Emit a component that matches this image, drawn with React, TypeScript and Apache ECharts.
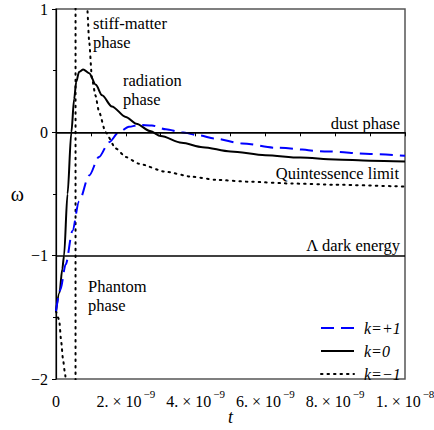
import React, { useEffect, useRef } from 'react';
import * as echarts from 'echarts';

// time values in units of 1e-9 (converted below), omega values
const tPlus = [0, 0.12, 0.28, 0.47, 0.66, 0.95, 1.23, 1.52, 1.8, 2.09, 2.38, 2.75, 3.15, 3.6, 4.1, 4.55, 5.33, 6.3, 7.8, 9.0, 10];
const wPlus = [-1.45, -1.28, -1.07, -0.8, -0.56, -0.35, -0.2, -0.08, 0.0, 0.045, 0.06, 0.055, 0.025, 0.0, -0.025, -0.05, -0.09, -0.125, -0.155, -0.175, -0.19];

const tZero = [0, 0.1, 0.18, 0.23, 0.33, 0.44, 0.52, 0.58, 0.66, 0.78, 0.95, 1.14, 1.32, 1.6, 2.0, 2.3, 2.7, 3.0, 3.6, 4.2, 5.0, 6.0, 7.0, 8.0, 9.0, 10];
const wZero = [-1.45, -1.3, -1.11, -1.0, -0.5, 0.0, 0.27, 0.41, 0.49, 0.51, 0.48, 0.385, 0.3, 0.21, 0.125, 0.07, 0.01, -0.03, -0.085, -0.12, -0.155, -0.185, -0.205, -0.22, -0.23, -0.237];

const tMinus = [0, 0.09, 0.15, 0.2, 0.26, 0.32, 0.42, 0.5, 0.555, 0.565, 0.65, 0.75, 0.89, 0.95, 1.03, 1.13, 1.23, 1.42, 1.71, 2.0, 2.38, 3.14, 3.9, 4.58, 5.5, 6.76, 8.0, 10];
const wMinus = [-1.45, -1.52, -1.7, -1.84, -1.96, -2.15, -2.6, -3.5, -30, 30, 4, 2, 1.03, 0.74, 0.44, 0.3, 0.17, 0.0, -0.13, -0.2, -0.255, -0.32, -0.36, -0.385, -0.4, -0.415, -0.425, -0.44];

const phaseLines = [0, -1];
const seriesNames = ['k=+1', 'k=0', 'k=\u22121'];

const UNIT = 1e-9;
const FONT = 'Liberation Serif';

const pairs = (t: number[], w: number[]) => t.map((x, i) => [x * UNIT, w[i]]);

export default function App() {
  const ref = useRef<HTMLDivElement>(null);
  useEffect(() => {
    if (!ref.current) return;
    const chart = echarts.init(ref.current, null, { renderer: 'svg' });
    const txt = (text: string, x: number, y: number, align: string, va: string) => ({
      type: 'text',
      x,
      y,
      silent: true,
      style: { text, fontFamily: FONT, fontSize: 16.5, fill: '#000', align, verticalAlign: va, lineHeight: 19 },
    });
    chart.setOption({
      animation: false,
      textStyle: { fontFamily: FONT },
      grid: {
        left: 56,
        right: 29,
        top: 9,
        bottom: 51,
        outerBoundsMode: 'none',
        containLabel: false,
        show: true,
        borderColor: '#555',
        borderWidth: 1.5,
        backgroundColor: 'transparent',
      },
      legend: {
        orient: 'vertical',
        left: 315,
        top: 315,
        itemWidth: 33,
        itemHeight: 14,
        itemGap: 7,
        data: seriesNames,
        itemStyle: { opacity: 0 },
        textStyle: { fontFamily: FONT, fontSize: 16, fontStyle: 'italic', color: '#000', padding: [0, 0, 0, 5] },
      },
      xAxis: {
        type: 'value',
        min: 0,
        max: 10 * UNIT,
        interval: 2 * UNIT,
        name: 't',
        nameLocation: 'middle',
        nameGap: 29,
        nameMoveOverlap: false,
        nameTextStyle: { fontFamily: FONT, fontSize: 18, fontStyle: 'italic', color: '#000' },
        axisLine: { lineStyle: { color: '#000', width: 1.2 } },
        axisTick: { show: true, length: 4, lineStyle: { color: '#000' } },
        minorTick: { show: true, splitNumber: 2, length: 4, lineStyle: { color: '#000' } },
        splitLine: { show: false },
        axisLabel: {
          margin: 9,
          color: '#000',
          fontFamily: FONT,
          fontSize: 16,
          formatter: (v: number) => {
            const n = Math.round(v / UNIT);
            if (n === 0) return '{m|0}';
            if (n === 10) return '{m|1. \u00d7 10}{s|\u22128}';
            return `{m|${n}. \u00d7 10}{s|\u22129}`;
          },
          rich: {
            m: { fontFamily: FONT, fontSize: 16, color: '#000', lineHeight: 26 },
            s: { fontFamily: FONT, fontSize: 11, color: '#000', lineHeight: 12, verticalAlign: 'top', padding: [0, 0, 0, 2] },
          },
        },
      },
      yAxis: {
        type: 'value',
        min: -2,
        max: 1,
        interval: 1,
        name: '\u03c9',
        nameLocation: 'middle',
        nameRotate: 0,
        nameGap: 32,
        nameMoveOverlap: false,
        nameTextStyle: { fontFamily: FONT, fontSize: 20, color: '#000' },
        axisLine: { lineStyle: { color: '#000', width: 1.2 } },
        axisTick: { show: true, length: 4, lineStyle: { color: '#000' } },
        minorTick: { show: true, splitNumber: 2, length: 3, lineStyle: { color: '#000' } },
        splitLine: { show: false },
        axisLabel: {
          margin: 8,
          color: '#000',
          fontFamily: FONT,
          fontSize: 16,
          formatter: (v: number) => (v < 0 ? '\u2212' + Math.abs(v) : String(v)),
        },
      },
      series: [
        {
          name: seriesNames[0],
          type: 'line',
          data: pairs(tPlus, wPlus),
          showSymbol: false,
          symbol: 'none',
          smooth: 0.3,
          smoothMonotone: 'x',
          lineStyle: { color: '#0000ff', width: 2, type: [13, 7] },
          itemStyle: { color: '#0000ff' },
          z: 4,
        },
        {
          name: seriesNames[1],
          type: 'line',
          data: pairs(tZero, wZero),
          showSymbol: false,
          symbol: 'none',
          smooth: 0.3,
          smoothMonotone: 'x',
          lineStyle: { color: '#000', width: 2, type: 'solid' },
          itemStyle: { color: '#000' },
          z: 3,
          markLine: {
            silent: true,
            symbol: 'none',
            label: { show: false },
            lineStyle: { color: '#000', width: 1.5, type: 'solid' },
            data: phaseLines.map((y) => ({ yAxis: y })),
          },
        },
        {
          name: seriesNames[2],
          type: 'line',
          data: pairs(tMinus, wMinus),
          showSymbol: false,
          symbol: 'none',
          smooth: 0.2,
          smoothMonotone: 'x',
          lineStyle: { color: '#000', width: 2, type: [1.5, 5], cap: 'round' },
          itemStyle: { color: '#000' },
          z: 2,
        },
      ],
      graphic: [
        txt('stiff-matter\nphase', 93, 13.5, 'left', 'top'),
        txt('radiation\nphase', 123, 70.5, 'left', 'top'),
        txt('dust phase', 400, 123, 'right', 'middle'),
        txt('Quintessence limit', 399, 173, 'right', 'middle'),
        txt('\u039b dark energy', 400, 245, 'right', 'middle'),
        txt('Phantom\nphase', 88, 276.5, 'left', 'top'),
      ],
    });
    return () => chart.dispose();
  }, []);
  return <div ref={ref} style={{ position: 'absolute', left: 0, top: 0, width: 434, height: 430 }} />;
}
